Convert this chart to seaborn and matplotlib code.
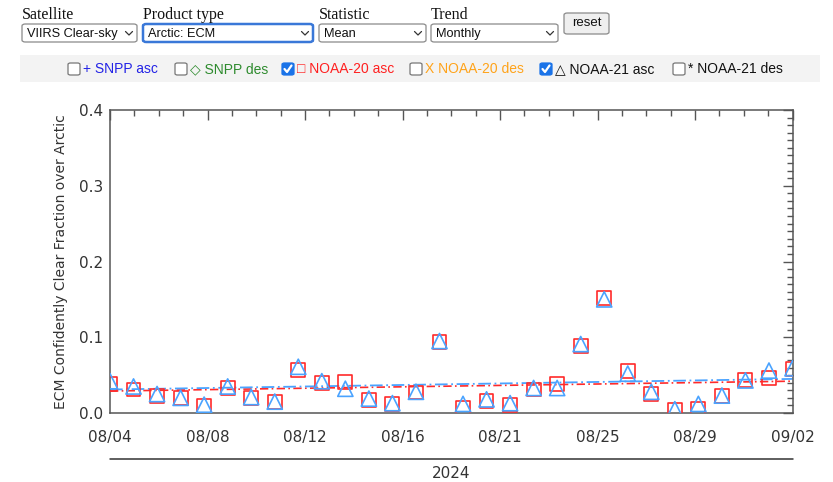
import numpy as np
import matplotlib
matplotlib.use("Agg")
import matplotlib.pyplot as plt
import seaborn as sns
from matplotlib.patches import FancyBboxPatch, Rectangle
from matplotlib.lines import Line2D

# ---------------- data ----------------
days = list(range(30))  # 08/04 .. 09/02 (2024)
noaa20_asc = [0.038, 0.031, 0.022, 0.020, 0.009, 0.033, 0.020, 0.014, 0.057, 0.040,
              0.041, 0.017, 0.012, 0.027, 0.094, 0.007, 0.016, 0.011, 0.031, 0.038,
              0.088, 0.152, 0.056, 0.025, 0.004, 0.006, 0.022, 0.044, 0.046, 0.058]
noaa21_asc = [0.042, 0.035, 0.025, 0.020, 0.011, 0.035, 0.021, 0.015, 0.061, 0.042,
              0.032, 0.019, 0.013, 0.028, 0.095, 0.012, 0.018, 0.013, 0.033, 0.033,
              0.091, 0.150, 0.052, 0.028, 0.005, 0.012, 0.023, 0.043, 0.056, 0.059]
# monthly trend lines (start / end of the period)
trend_days = [0, 29]
noaa20_trend = [0.029, 0.042]
noaa21_trend = [0.031, 0.045]

xtick_labels = ["08/04", "08/08", "08/12", "08/16", "08/21", "08/25", "08/29", "09/02"]
ytick_values = [0.0, 0.1, 0.2, 0.3, 0.4]
year_label = "2024"
y_label = "ECM Confidently Clear Fraction over Arctic"

dropdown_titles = ["Satellite", "Product type", "Statistic", "Trend"]
dropdown_values = ["VIIRS Clear-sky", "Arctic: ECM", "Mean", "Monthly"]
check_labels = ["+ SNPP asc", "\u25c7 SNPP des", "\u25a1 NOAA-20 asc",
                "X NOAA-20 des", "\u25b3 NOAA-21 asc", "* NOAA-21 des"]
check_colors = ["#2323e6", "#2e8b2e", "#ff2020", "#ffa31a", "#111111", "#111111"]
check_states = [False, False, True, False, True, False]

RED = "#ff2a2a"
BLUE = "#4aa3ff"

# ---------------- figure ----------------
sns.set_style("white")
plt.rcParams["font.family"] = ["DejaVu Sans"]

W, H = 833, 482
fig = plt.figure(figsize=(W / 100, H / 100), dpi=100)
fig.patch.set_facecolor("white")


def fx(x):
    return x / W


def fy(y):
    return 1 - y / H


ax = fig.add_axes([fx(110), fy(413), (792.5 - 110) / W, (413 - 110) / H])

sns.lineplot(x=trend_days, y=noaa20_trend, color=RED, lw=1.2, ax=ax,
             linestyle=(0, (5, 2, 1, 2)), zorder=2)
sns.lineplot(x=trend_days, y=noaa21_trend, color=BLUE, lw=1.3, ax=ax,
             linestyle=(0, (7, 2, 1, 2)), zorder=2)
sns.scatterplot(x=days, y=noaa20_asc, marker="s", s=100, facecolor="none",
                edgecolor=RED, linewidth=1.2, ax=ax, zorder=3)
sns.scatterplot(x=days, y=noaa21_asc, marker="^", s=120, facecolor="none",
                edgecolor=BLUE, linewidth=1.2, ax=ax, zorder=4)

ax.set_xlim(0, 29)
ax.set_ylim(0, 0.4)
ax.set_xticks(np.linspace(0, 29, len(xtick_labels)))
ax.set_xticklabels(xtick_labels)
ax.set_xticks(np.linspace(0, 29, 29), minor=True)
ax.set_yticks(ytick_values)
ax.set_yticklabels([f"{v:.1f}" for v in ytick_values])
ax.set_yticks(np.arange(0, 0.4001, 0.01), minor=True)
ax.set_xlabel("")
ax.set_ylabel(y_label, fontsize=10, color="#333333", labelpad=8)

for sp in ax.spines.values():
    sp.set_visible(True)
    sp.set_color("#555555")
    sp.set_linewidth(1.1)
ax.tick_params(which="both", direction="in", top=True, right=True,
               colors="#555555", labelcolor="#333333", width=1)
ax.tick_params(which="major", length=7)
ax.tick_params(which="minor", length=4)
ax.tick_params(axis="x", labelsize=11, pad=12)
ax.tick_params(axis="y", labelsize=11, pad=5)

# year line and label below the axis
fig.add_artist(Line2D([fx(110), fx(793)], [fy(459), fy(459)], color="#333333", lw=1.1))
fig.text(fx(451), fy(474), year_label, ha="center", va="center", fontsize=11, color="#333333")

# ---------------- top controls ----------------
title_x = [22, 143, 319, 431]
box_l = [22, 143, 319, 431]
box_r = [137, 313, 426, 558]
for i in range(4):
    fig.text(fx(title_x[i]), fy(15), dropdown_titles[i], ha="left", va="center",
             fontsize=11.5, family="Liberation Serif", color="#111111")
    focused = (i == 1)
    bx = FancyBboxPatch((fx(box_l[i]), fy(42)), fx(box_r[i] - box_l[i]), (42 - 24) / H,
                        boxstyle="round,pad=0,rounding_size=0.004",
                        transform=fig.transFigure,
                        fc="white", ec="#3a78d8" if focused else "#8a8a8a",
                        lw=1.8 if focused else 0.9)
    fig.add_artist(bx)
    fig.text(fx(box_l[i] + 5), fy(34), dropdown_values[i], ha="left", va="center",
             fontsize=9.2, family="Liberation Sans", color="#111111")
    cx = box_r[i] - 8
    fig.add_artist(Line2D([fx(cx - 3.5), fx(cx), fx(cx + 3.5)],
                          [fy(31.5), fy(35), fy(31.5)], color="#333333", lw=0.9))

reset = FancyBboxPatch((fx(564), fy(34)), fx(45), (34 - 13) / H,
                       boxstyle="round,pad=0,rounding_size=0.004",
                       transform=fig.transFigure, fc="#efefef", ec="#8a8a8a", lw=0.9)
fig.add_artist(reset)
fig.text(fx(586.5), fy(23.5), "reset", ha="center", va="center", fontsize=9.5,
         family="Liberation Sans", color="#111111")

# gray band with checkboxes
fig.add_artist(Rectangle((fx(20), fy(82)), fx(800), (82 - 55) / H,
                         transform=fig.transFigure, fc="#f3f3f3", ec="none"))
cb_x = [68, 175, 282, 410, 540, 673]
for i in range(6):
    x0 = cb_x[i]
    checked = check_states[i]
    cb = FancyBboxPatch((fx(x0), fy(75)), fx(12), 12 / H,
                        boxstyle="round,pad=0,rounding_size=0.003",
                        transform=fig.transFigure,
                        fc="#1a73e8" if checked else "white",
                        ec="#1a73e8" if checked else "#777777", lw=0.9)
    fig.add_artist(cb)
    if checked:
        fig.add_artist(Line2D([fx(x0 + 2.5), fx(x0 + 5), fx(x0 + 9.5)],
                              [fy(69), fy(72), fy(65.5)], color="white", lw=1.6))
    fig.text(fx(x0 + 15), fy(69), check_labels[i], ha="left", va="center",
             fontsize=10, family=["Liberation Sans", "DejaVu Sans"],
             color=check_colors[i])

fig.savefig("out.png", dpi=100, facecolor="white")
